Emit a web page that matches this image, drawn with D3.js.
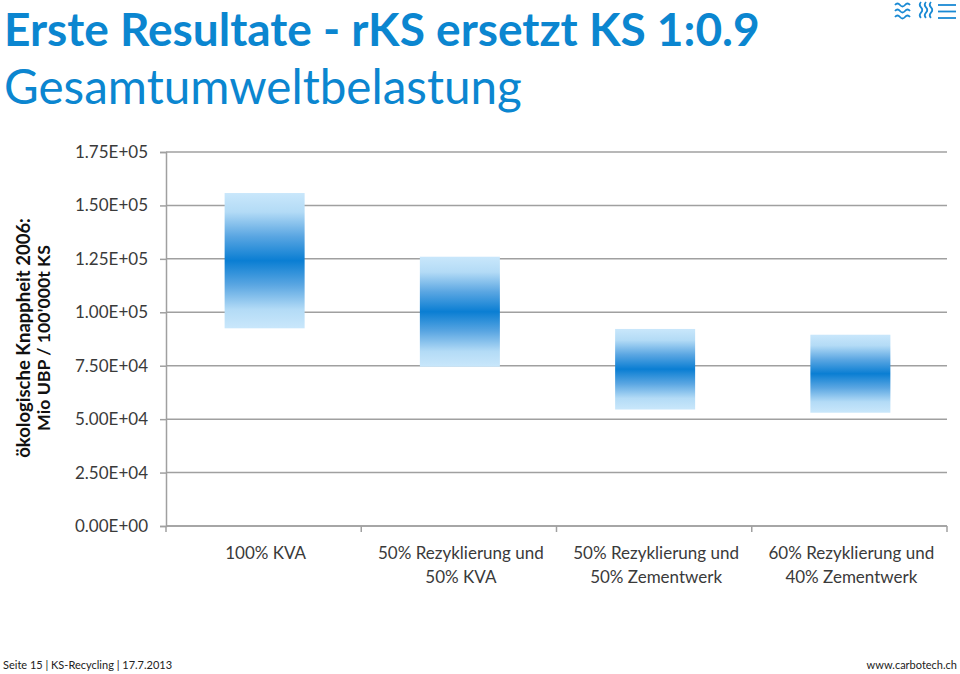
<!DOCTYPE html>
<html><head><meta charset="utf-8">
<script src="https://cdn.jsdelivr.net/npm/d3@7"></script>
<style>body{margin:0;background:#fff}svg{display:block}</style>
</head><body>
<svg id="c" width="960" height="674"></svg>
<script>
const categories = [
  ["100% KVA"],
  ["50% Rezyklierung und", "50% KVA"],
  ["50% Rezyklierung und", "50% Zementwerk"],
  ["60% Rezyklierung und", "40% Zementwerk"]
];
const lowValues  = [92500, 74500, 54500, 53000];
const highValues = [155800, 126000, 92200, 89500];
const tickValues = [0, 25000, 50000, 75000, 100000, 125000, 150000, 175000];
const tickLabels = ["0.00E+00","2.50E+04","5.00E+04","7.50E+04","1.00E+05","1.25E+05","1.50E+05","1.75E+05"];

(function(){
const svg = d3.select("#c");
const FONT = "Lato, 'Open Sans', sans-serif";
const blue = "#0b86d0";

function fit(sel, w){ const n=sel.node(); const l=n.getComputedTextLength(); const fs=parseFloat(sel.attr("font-size")); sel.attr("font-size", fs*w/l); }

// Titles
const t1 = svg.append("text").attr("x",4).attr("y",41).attr("font-family",FONT).attr("font-weight","bold").attr("font-size",48).attr("fill",blue).text("Erste Resultate - rKS ersetzt KS 1:0.9");
fit(t1, 756);
const bb = t1.node().getBBox();
if (bb.y < 0.5) t1.attr("y", 41 - bb.y + 0.5);
const t2 = svg.append("text").attr("x",4).attr("y",104).attr("font-family",FONT).attr("font-size",48).attr("fill",blue).text("Gesamtumweltbelastung");
fit(t2, 518);

// Logo
const logo = svg.append("g").attr("fill","none").attr("stroke","#1a8ad4").attr("stroke-width",1.8);
for (let i=0;i<3;i++){ const yy=5+i*6; logo.append("path").attr("d",`M895,${yy} q2.5,-3 5,0 t5,0 t5,0`); }
for (let i=0;i<3;i++){ const xx=921+i*5; logo.append("path").attr("d",`M${xx},2 q-2.5,2.7 0,5.3 t0,5.3 t0,5.3`); }
for (let i=0;i<3;i++){ const yy=5+i*6.5; logo.append("line").attr("x1",938).attr("x2",956).attr("y1",yy).attr("y2",yy); }

// Chart
const pL=166, pR=947, pT=152, pB=526;
const x = d3.scaleBand().domain(d3.range(categories.length)).range([pL,pR]).paddingInner(0).paddingOuter(0);
const y = d3.scaleLinear().domain([0,175000]).range([pB,pT]);

const defs = svg.append("defs");
const grad = defs.append("linearGradient").attr("id","g").attr("x1",0).attr("y1",0).attr("x2",0).attr("y2",1);
[[0,"#c9e7fb"],[0.14,"#b3dbf6"],[0.32,"#5aa6e2"],[0.5,"#0a7ed3"],[0.68,"#5aa6e2"],[0.86,"#b3dbf6"],[1,"#c9e7fb"]].forEach(s=>grad.append("stop").attr("offset",s[0]).attr("stop-color",s[1]));

// gridlines
svg.append("g").selectAll("line").data(tickValues).join("line")
  .attr("x1",pL).attr("x2",pR).attr("y1",d=>y(d)).attr("y2",d=>y(d))
  .attr("stroke","#a0a0a0").attr("stroke-width",1.5);

// bars
const bw = 80;
svg.append("g").selectAll("rect").data(categories.map((c,i)=>i)).join("rect")
  .attr("x",i=>x(i)+x.bandwidth()/2-bw/2+1).attr("width",bw)
  .attr("y",i=>y(highValues[i])).attr("height",i=>y(lowValues[i])-y(highValues[i]))
  .attr("fill","url(#g)");

// y axis
const ya = svg.append("g").attr("transform",`translate(${pL},0)`)
  .call(d3.axisLeft(y).tickValues(tickValues).tickFormat((d,i)=>tickLabels[i]).tickSize(6).tickPadding(12));
ya.select(".domain").attr("stroke","#a0a0a0").attr("stroke-width",1.5);
ya.selectAll(".tick line").attr("stroke","#a0a0a0").attr("stroke-width",1.5);
ya.selectAll("text").attr("font-family",FONT).attr("font-size",17).attr("fill","#3a3a3a");

// x axis
const xa = svg.append("g").attr("transform",`translate(0,${pB})`);
xa.append("line").attr("x1",pL).attr("x2",pR).attr("stroke","#a0a0a0").attr("stroke-width",1.5);
xa.selectAll("line.t").data(d3.range(categories.length+1)).join("line").attr("class","t")
  .attr("x1",i=>pL+i*x.bandwidth()).attr("x2",i=>pL+i*x.bandwidth()).attr("y1",0).attr("y2",6)
  .attr("stroke","#a0a0a0").attr("stroke-width",1.5);
categories.forEach((lines,i)=>{
  lines.forEach((ln,j)=>{
    xa.append("text").attr("x",x(i)+x.bandwidth()/2+2).attr("y",33+j*24).attr("text-anchor","middle")
      .attr("font-family",FONT).attr("font-size",17).attr("fill","#3a3a3a").text(ln);
  });
});

// y label
const yl = svg.append("g").attr("transform","translate(0,338) rotate(-90)");
const l1 = yl.append("text").attr("x",0).attr("y",30).attr("text-anchor","middle").attr("font-family",FONT).attr("font-weight","bold").attr("font-size",17).attr("fill","#111").text("ökologische Knappheit 2006:");
fit(l1, 240);
const l2 = yl.append("text").attr("x",0).attr("y",50).attr("text-anchor","middle").attr("font-family",FONT).attr("font-weight","bold").attr("font-size",17).attr("fill","#111").text("Mio UBP / 100'000t KS");
fit(l2, 186);

// footer
svg.append("text").attr("x",3).attr("y",669).attr("font-family",FONT).attr("font-size",11).attr("fill","#222").text("Seite 15 | KS-Recycling | 17.7.2013");
svg.append("text").attr("x",957).attr("y",669).attr("text-anchor","end").attr("font-family",FONT).attr("font-size",11).attr("fill","#222").text("www.carbotech.ch");
})();
</script>
</body></html>
